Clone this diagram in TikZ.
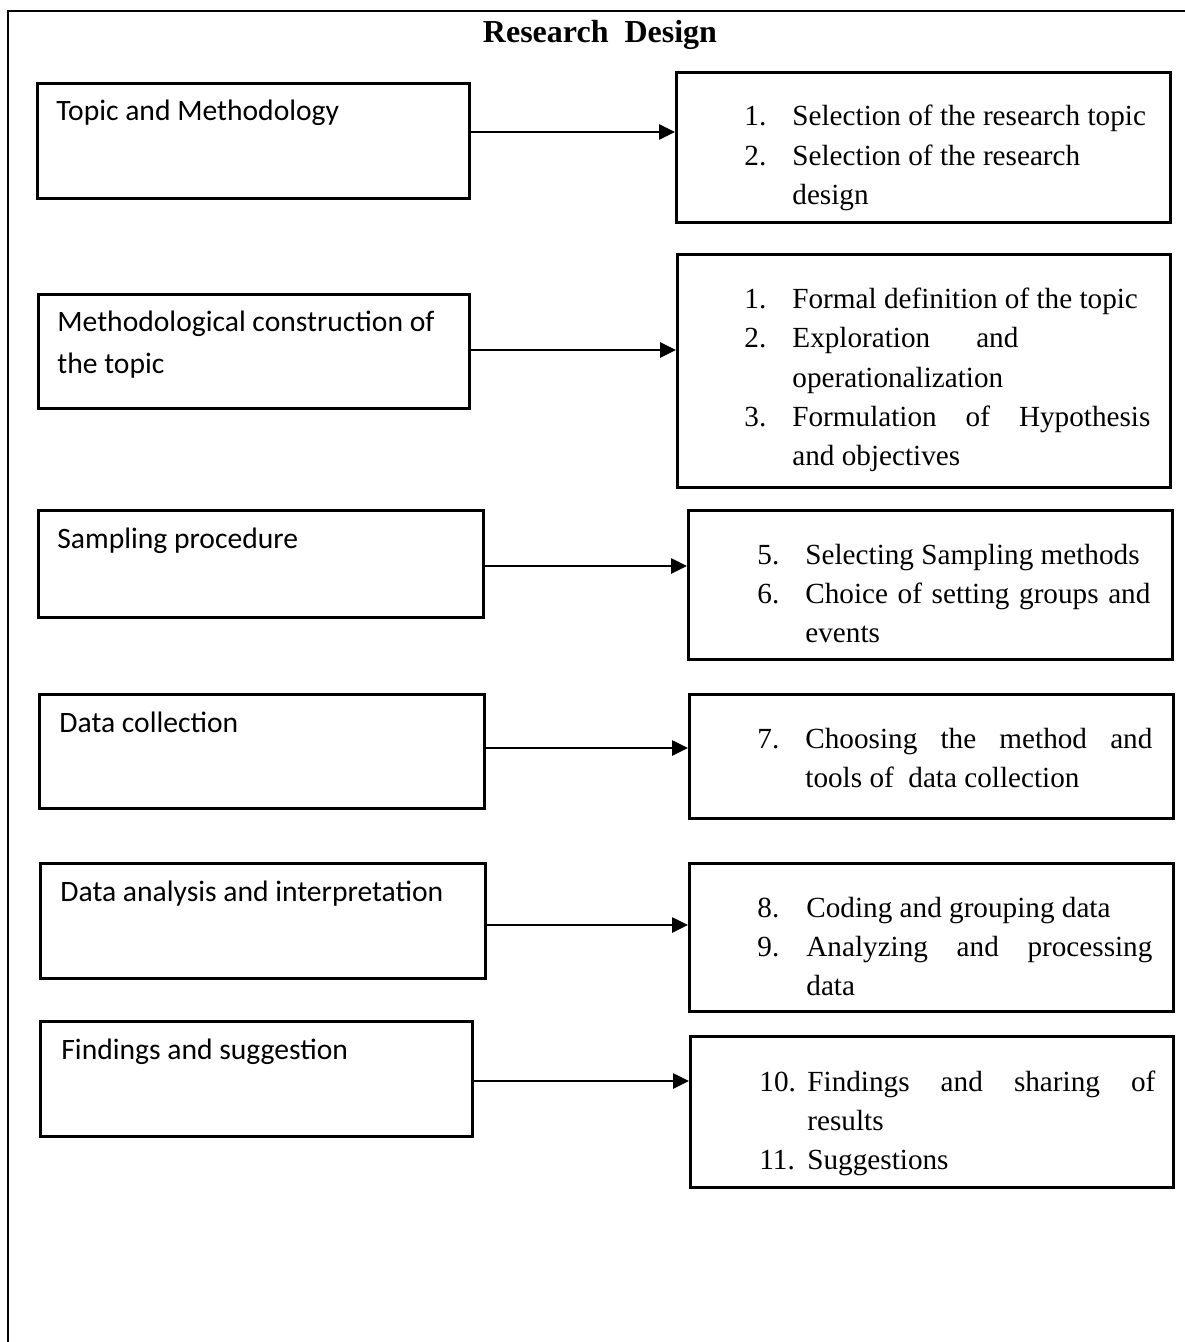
\documentclass[tikz,border=0pt]{standalone}
\usepackage{fontspec}
\setmainfont{Liberation Serif}
\newfontfamily\calib{Carlito}
\usetikzlibrary{arrows.meta}
\tikzset{
  box/.style={draw, line width=1.4pt, rectangle, inner sep=0pt, anchor=north west},
  arr/.style={line width=1.3pt, -{Triangle[length=8pt,width=7.5pt]}},
  ltxt/.style={anchor=base west, inner sep=0pt, font=\calib\fontsize{14.8pt}{18pt}\selectfont},
  rtxt/.style={anchor=base west, inner sep=0pt, font=\fontsize{14.6pt}{18pt}\selectfont},
  ttl/.style={anchor=base, inner sep=0pt, font=\bfseries\fontsize{16pt}{18pt}\selectfont}
}
\newcommand{\jst}[2]{\makebox[#1][s]{#2}}
\begin{document}
\begin{tikzpicture}[x=0.5pt,y=-0.5pt]
\useasboundingbox (0,0) rectangle (1184,1342);
\draw[line width=1.1pt] (8,1350) -- (8,11) -- (1190,11);
\node[ttl] (title) at (600,43) {Research\ \ Design};

% left boxes
\node[box, minimum width=216pt, minimum height=57.5pt] (L1) at (36,82) {};
\node[box, minimum width=215.5pt, minimum height=57pt] (L2) at (37,293) {};
\node[box, minimum width=222.5pt, minimum height=53.5pt] (L3) at (37,509) {};
\node[box, minimum width=222.5pt, minimum height=57pt] (L4) at (38,693) {};
\node[box, minimum width=222.5pt, minimum height=57.5pt] (L5) at (39,862) {};
\node[box, minimum width=216pt, minimum height=57.5pt] (L6) at (39,1020) {};

% right boxes
\node[box, minimum width=247pt, minimum height=75pt] (R1) at (675,71) {};
\node[box, minimum width=246.5pt, minimum height=116.5pt] (R2) at (676,253) {};
\node[box, minimum width=242pt, minimum height=74.5pt] (R3) at (687,509) {};
\node[box, minimum width=242pt, minimum height=62pt] (R4) at (688,693) {};
\node[box, minimum width=242pt, minimum height=74pt] (R5) at (688,862) {};
\node[box, minimum width=241.5pt, minimum height=75.5pt] (R6) at (689,1035) {};

% left texts
\node[ltxt] (l1a) at (56,121) {Topic and Methodology};
\node[ltxt] (l2a) at (57,332) {Methodological construction of};
\node[ltxt] (l2b) at (57,373) {the topic};
\node[ltxt] (l3a) at (57,548) {Sampling procedure};
\node[ltxt] (l4a) at (59,732) {Data collection};
\node[ltxt] (l5a) at (60,901) {Data analysis and interpretation};
\node[ltxt] (l6a) at (61,1059) {Findings and suggestion};

% right texts box 1
\node[rtxt] (n11) at (744,126) {1.};
\node[rtxt] (r11) at (792,126) {Selection of the research topic};
\node[rtxt] (n12) at (744,166) {2.};
\node[rtxt] (r12) at (792,166) {Selection of the research};
\node[rtxt] (r13) at (792,205) {design};

% box 2
\node[rtxt] (n21) at (744,309) {1.};
\node[rtxt] (r21) at (792,309) {Formal definition of the topic};
\node[rtxt] (n22) at (744,348) {2.};
\node[rtxt] (r22) at (792,348) {\jst{113pt}{Exploration and}};
\node[rtxt] (r23) at (792,387) {operationalization};
\node[rtxt] (n24) at (744,426) {3.};
\node[rtxt] (r24) at (792,426) {\jst{179pt}{Formulation of Hypothesis}};
\node[rtxt] (r25) at (792,465) {and objectives};

% box 3
\node[rtxt] (n31) at (757,564) {5.};
\node[rtxt] (r31) at (805,564) {Selecting Sampling methods};
\node[rtxt] (n32) at (757,603) {6.};
\node[rtxt] (r32) at (805,603) {\jst{172.5pt}{Choice of setting groups and}};
\node[rtxt] (r33) at (805,642) {events};

% box 4
\node[rtxt] (n41) at (757,748) {7.};
\node[rtxt] (r41) at (805,748) {\jst{173.5pt}{Choosing the method and}};
\node[rtxt] (r42) at (805,787) {tools of\ \ data collection};

% box 5
\node[rtxt] (n51) at (757,917) {8.};
\node[rtxt] (r51) at (806,917) {Coding and grouping data};
\node[rtxt] (n52) at (757,956) {9.};
\node[rtxt] (r52) at (806,956) {\jst{173pt}{Analyzing and processing}};
\node[rtxt] (r53) at (806,995) {data};

% box 6
\node[rtxt] (n61) at (759,1091) {10.};
\node[rtxt] (r61) at (807,1091) {\jst{174pt}{Findings and sharing of}};
\node[rtxt] (r62) at (807,1130) {results};
\node[rtxt] (n63) at (759,1169) {11.};
\node[rtxt] (r63) at (807,1169) {Suggestions};

% arrows
\draw[arr] (L1.east |- 0,132) -- (R1.west |- 0,132);
\draw[arr] (L2.east |- 0,350) -- (R2.west |- 0,350);
\draw[arr] (L3.east |- 0,566) -- (R3.west |- 0,566);
\draw[arr] (L4.east |- 0,748) -- (R4.west |- 0,748);
\draw[arr] (L5.east |- 0,925) -- (R5.west |- 0,925);
\draw[arr] (L6.east |- 0,1081) -- (R6.west |- 0,1081);
\end{tikzpicture}
\end{document}
